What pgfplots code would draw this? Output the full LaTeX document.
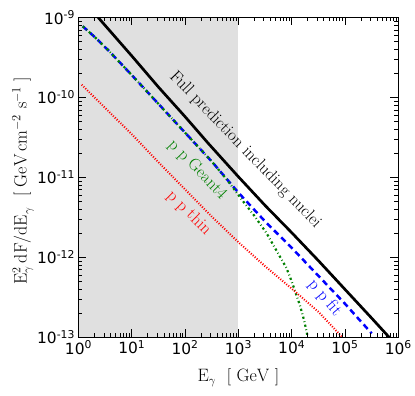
\documentclass[border=0pt]{standalone}
\usepackage{fontspec}
\usepackage{pgfplots}
\pgfplotsset{compat=1.18}
\newfontfamily\ticksf{DejaVu Sans}
\definecolor{mplgreen}{HTML}{008000}
\definecolor{shade}{HTML}{E0E0E0}

\begin{document}
\begin{tikzpicture}
\begin{axis}[
    xmode=log, ymode=log,
    scale only axis,
    width=320bp, height=320bp,
    xmin=1, xmax=1e6,
    ymin=1e-13, ymax=1e-9,
    axis on top,
    axis line style={line width=0.9bp},
    every tick/.style={black, line width=0.7bp},
    major tick length=8bp,
    minor tick length=4bp,
    xtick={1,10,100,1000,10000,100000,1000000},
    xticklabels={10\textsuperscript{0},10\textsuperscript{1},10\textsuperscript{2},10\textsuperscript{3},10\textsuperscript{4},10\textsuperscript{5},10\textsuperscript{6}},
    minor xtick={2,3,4,5,6,7,8,9,20,30,40,50,60,70,80,90,200,300,400,500,600,700,800,900,2000,3000,4000,5000,6000,7000,8000,9000,20000,30000,40000,50000,60000,70000,80000,90000,200000,300000,400000,500000,600000,700000,800000,900000},
    ytick={1e-13,1e-12,1e-11,1e-10,1e-9},
    yticklabels={10\textsuperscript{-13},10\textsuperscript{-12},10\textsuperscript{-11},10\textsuperscript{-10},10\textsuperscript{-9}},
    minor ytick={2e-13,3e-13,4e-13,5e-13,6e-13,7e-13,8e-13,9e-13,2e-12,3e-12,4e-12,5e-12,6e-12,7e-12,8e-12,9e-12,2e-11,3e-11,4e-11,5e-11,6e-11,7e-11,8e-11,9e-11,2e-10,3e-10,4e-10,5e-10,6e-10,7e-10,8e-10,9e-10},
    ticklabel style={font=\ticksf\fontsize{15.5}{17}\selectfont},
    xlabel={$\mathrm{E}_\gamma\ \ [\ \mathrm{GeV}\ ]$},
    ylabel={$\mathrm{E}_\gamma^2\,\mathrm{dF/dE}_\gamma\ \ [\ \mathrm{GeV\,cm^{-2}}\ \mathrm{s^{-1}}\ ]$},
    xlabel style={font=\fontsize{18}{20}\selectfont, at={(axis description cs:0.5,-0.139)}, anchor=base},
    ylabel style={font=\fontsize{18}{20}\selectfont, at={(axis description cs:-0.162,0.49)}, anchor=base, rotate=0},
]
% shaded band
\addplot[fill=shade, draw=none] coordinates {(1,1e-13) (1000,1e-13) (1000,1e-9) (1,1e-9)} -- cycle;

% full prediction
\addplot[black, line width=2.7bp] coordinates {
(2.344,1.0e-9) (10,3.31e-10) (31.62,1.35e-10) (100,5.75e-11) (269.2,2.69e-11)
(1000,1.02e-11) (3162,4.47e-12) (10000,2.04e-12) (31623,9.12e-13)
(100000,3.98e-13) (316228,1.74e-13) (676083,1.0e-13)};

% pp fit
\addplot[blue, line width=2.5bp, dash pattern=on 6bp off 4bp] coordinates {
(1.202,7.76e-10) (1.995,5.75e-10) (3.631,3.89e-10) (10,1.905e-10) (31.62,8.32e-11)
(100,3.63e-11) (316.2,1.585e-11) (1000,6.46e-12) (3162,2.82e-12) (10000,1.318e-12)
(31623,5.89e-13) (100000,2.63e-13) (316228,1.12e-13)};

% pp Geant4
\addplot[mplgreen, line width=2.2bp, dash pattern=on 2.2bp off 2.6bp on 0.8bp off 2.6bp] coordinates {
(1.202,7.76e-10) (1.995,5.75e-10) (3.631,3.89e-10) (10,1.905e-10) (31.62,8.32e-11)
(100,3.63e-11) (316.2,1.585e-11) (631,9.12e-12) (1230,5.01e-12) (1995,3.31e-12)
(3388,2.0e-12) (6026,1.02e-12) (7943,7.41e-13) (10000,5.01e-13) (14125,2.57e-13)
(16982,1.66e-13) (19055,1.175e-13) (19953,1.0e-13)};

% pp thin
\addplot[red, line width=2bp, dash pattern=on 1bp off 1.6bp] coordinates {
(1.148,1.445e-10) (3.162,7.41e-11) (10,3.47e-11) (31.62,1.55e-11) (100,7.08e-12)
(316.2,3.24e-12) (1000,1.55e-12) (3162,7.76e-13) (10000,4.07e-13) (31623,2.09e-13)
(87096,1.02e-13)};

\node[font=\fontsize{17}{20}\selectfont, rotate=-46] at (axis cs:1343,2.2e-11) {Full prediction including nuclei};
\node[font=\fontsize{17}{20}\selectfont, text=mplgreen, rotate=-46] at (axis cs:170,1.25e-11) {p p Geant4};
\node[font=\fontsize{17}{20}\selectfont, text=red, rotate=-45] at (axis cs:118,3.6e-12) {p p thin};
\node[font=\fontsize{17}{20}\selectfont, text=blue, rotate=-50] at (axis cs:41687,3.09e-13) {p p fit};

\coordinate (ll) at (rel axis cs:0,0);
\coordinate (ur) at (rel axis cs:1,1);
\end{axis}
\pgfresetboundingbox
\path (ll) ++(-78.5bp,-57.7bp) coordinate (bl);
\path (ur) ++(16.7bp,17.5bp) coordinate (tr);
\path[use as bounding box] (bl) rectangle (tr);
\end{tikzpicture}
\end{document}
